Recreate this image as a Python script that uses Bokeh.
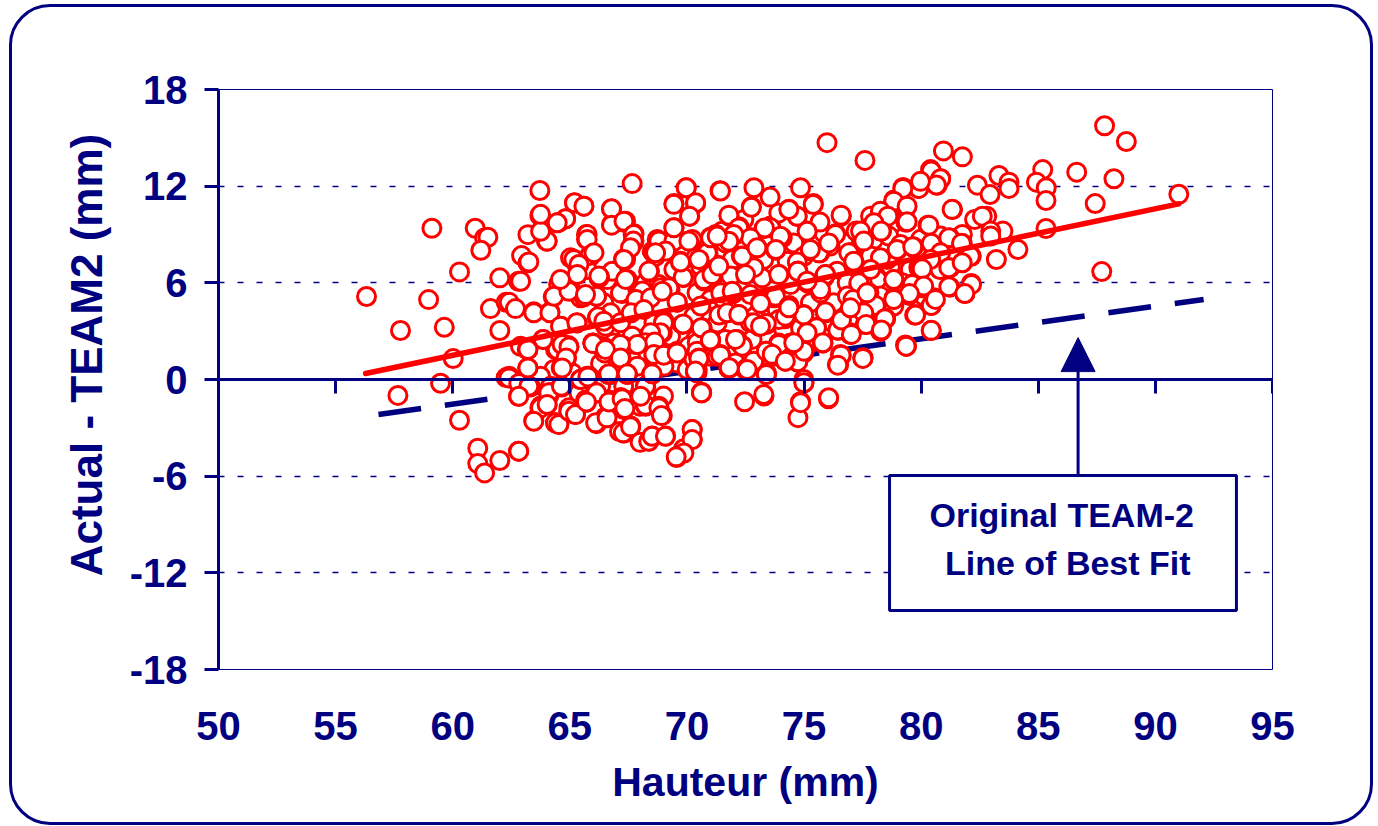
from bokeh.plotting import figure
from bokeh.models import Range1d, FixedTicker, LinearAxis, BoxAnnotation, Arrow, NormalHead, Label, InlineStyleSheet
from bokeh.embed import file_html
from bokeh.resources import INLINE

NAVY = "#000080"
RED = "#ff0000"
FONT = "Liberation Sans"

x_ticks = [50, 55, 60, 65, 70, 75, 80, 85, 90, 95]
y_ticks = [-18, -12, -6, 0, 6, 12, 18]
y_tick_labels = {-18: "-18", -12: "-12", -6: "-6", 0: "0", 6: "6", 12: "12", 18: "18"}
x_title = "Hauteur (mm)"
y_title = "Actual - TEAM2 (mm)"
note_lines = ["Original TEAM-2", "Line of Best Fit"]

fit_x = [56.28, 91.0]
fit_y = [0.37, 10.9]
orig_x = [56.83, 92.06]
orig_y = [-2.17, 4.97]

pts_hidden = [
(65.03,7.55),(65.39,6.72),(66.6,6.2),(67.73,5.79),(68.23,6.0),(68.8,5.9),(69.44,6.83),(70.15,6.93),(68.52,7.96),(65.46,5.07),(66.45,4.76),(67.45,5.38),(66.74,4.14),(67.88,3.52),(68.59,3.52),(69.3,2.69),(68.02,2.48),(67.45,2.69),(66.88,2.27),(66.31,2.07),(68.3,1.45),(67.59,1.45),(67.88,0.83),(66.95,0.83),(66.31,1.0),(69.58,1.03),(68.73,0.83),(70.01,0.62),(64.39,1.86),(64.32,0.62),(65.1,0.41),(63.75,0.2),(67.88,-0.62),(67.3,-0.42),(66.31,-0.42),(65.39,-0.83),(64.18,-0.42),(69.0,-1.03),
(71.5,9.2),(71.64,8.48),(72.43,9.93),(73.57,9.52),(73.92,10.34),(74.7,10.13),(75.84,9.1),(76.7,8.48),(74.56,8.48),(74.99,7.65),(74.28,7.34),(73.28,7.45),(71.93,7.45),(70.58,7.03),(71.64,6.2),(73.21,6.31),(74.42,5.89),(76.41,6.72),(76.27,5.79),(76.84,6.0),(70.43,5.38),(71.0,4.96),(71.57,4.96),(72.43,4.76),(73.85,4.34),(75.27,4.76),(76.27,4.76),(72.71,3.51),(71.29,3.51),(70.29,3.93),(74.13,3.1),(76.13,3.62),(77.12,3.51),(71.64,2.48),(72.78,2.48),(74.42,2.27),(75.27,2.27),(71.0,1.44),(73.28,1.24),(72.07,1.03),(73.85,1.44),
(77.84,10.14),(78.83,9.73),(77.98,8.7),(78.62,8.9),(79.97,8.7),(80.83,8.9),(79.4,7.66),(77.84,7.66),(78.69,7.04),(79.54,6.83),(80.68,7.04),(78.12,6.21),(77.48,6.0),(79.19,6.0),(78.26,5.18),(79.12,5.38),(80.11,5.18),(77.84,4.14),(78.83,4.56),
]
pts_left = [
(56.32,5.15),(57.66,-0.99),(57.77,3.04),(59.11,9.39),(58.97,4.96),(59.48,-0.23),(59.64,3.24),(60.02,1.30),(60.29,-2.53),(60.29,6.68),
(60.96,9.39),(61.36,8.79),(61.5,8.83),(61.2,8.02),(61.07,-4.27),(61.07,-5.22),(61.36,-5.8),(62.01,-5.03),(62.81,-4.45),
(62.01,6.31),(62.81,6.10),(61.61,4.40),(62.01,3.04),(62.28,4.79),(62.41,4.79),(62.68,4.40),(62.28,0.12),(62.41,0.2),(62.81,-0.21),(62.81,-1.04),(63.32,-0.46),
(62.94,7.69),(63.21,7.24),(63.21,8.99),(63.72,11.73),(63.72,10.18),(63.89,9.58),(64.0,8.6),(64.53,9.76),(64.82,9.97),(65.2,10.96),(65.6,10.76),(66.78,10.59),(66.78,9.62),(67.31,9.76),(67.66,12.16),(67.7,9.0),(67.7,8.48),
(65.71,9.0),(65.71,8.7),(65.85,7.69),(65.2,7.44),(65.31,7.13),(67.31,7.44),
(63.46,4.2),(64.15,4.2),(64.53,5.93),(64.29,5.13),(65.0,5.79),(65.6,5.13),(66.24,6.31),(66.14,5.17),(67.19,5.38),(67.45,6.14),(67.8,4.96),(66.81,6.72),
(65.31,3.51),(64.63,3.31),(66.52,3.31),(66.17,3.82),(65.98,2.27),(63.86,2.48),(62.89,2.06),(63.21,1.86),(63.21,0.72),(64.96,2.06),(64.46,1.86),(64.82,1.24),(64.63,0.72),(66.52,1.96),(67.19,2.13),(67.19,1.34),(67.8,2.17),(67.45,0.31),(66.64,0.31),(67.66,2.69),
(65.45,0.0),(65.74,0.2),(64.63,-0.42),(64.15,-0.83),(65.71,-1.41),(66.14,-0.83),(66.67,-1.41),(67.19,-1.14),(67.31,-1.87),(63.72,-1.76),(64.03,-1.56),(63.46,-2.55),(64.39,-2.69),(64.53,-2.76),(64.96,-1.97),(65.24,-2.18),(66.14,-2.74),(66.52,-2.32),(67.31,-3.32),(67.59,-2.9),(68.0,-3.9),(68.0,-1.66),
]
pts_mid = [
(69.97,11.9),(71.41,11.72),(72.86,11.9),(74.85,11.9),(79.24,11.9),(79.9,11.9),
(69.45,10.93),(70.37,10.93),(70.12,10.14),(73.55,11.32),(72.75,10.72),(75.4,10.93),(74.36,10.56),(74.71,10.14),(71.8,10.14),(76.59,10.14),(78.84,11.14),(78.55,10.14),(79.34,10.72),(79.34,9.77),(78.06,9.73),
(67.38,9.83),(67.74,9.05),(67.74,8.59),(68.76,8.59),(69.45,9.42),(69.45,8.59),(70.09,8.59),(69.16,8.07),(68.59,7.87),(67.38,7.45),
(71.04,8.8),(71.23,9.0),(71.8,8.59),(72.08,9.0),(72.22,9.48),(72.75,8.8),(73.29,9.36),(73.57,9.42),(74.07,8.8),(73.0,8.18),(75.14,9.21),(75.68,9.77),(76.35,9.05),(77.25,9.21),(77.49,8.59),(78.31,9.21),(76.11,8.28),(73.79,8.03),(72.32,7.66),(70.9,7.83),(70.59,7.45),(69.73,7.25),(75.28,7.97),(75.68,7.87),(76.99,7.87),(78.98,8.03),(79.66,8.24),(74.71,7.29),(77.13,7.29),(78.55,7.45),(79.9,6.94),
(68.38,6.67),(71.3,7.08),(69.85,6.32),(72.5,6.52),(73.93,6.52),(74.74,6.73),(75.92,6.52),(75.85,6.32),(70.73,6.11),(71.15,6.42),(71.87,6.42),(72.86,6.94),(78.84,6.17),(79.62,5.9),(77.34,5.9),(67.38,6.11),
(69.28,5.55),(68.88,5.69),(68.1,5.49),(67.24,5.34),(67.85,4.93),(69.59,4.8),(70.59,4.56),(71.44,5.38),(71.98,5.34),(73.15,4.76),(73.72,5.07),(74.36,4.6),(75.71,5.38),(75.14,6.0),(77.1,4.97),(77.77,5.38),(76.85,5.18),(78.03,4.6),(78.84,4.97),(79.48,5.22),
(72.22,4.0),(74.99,4.0),(75.92,4.18),(69.8,3.42),(70.63,3.21),(69.02,3.63),(73.4,3.46),(73.08,3.31),(74.17,3.77),(71.37,4.0),(75.52,3.25),(76.46,3.07),(76.56,3.73),(77.67,3.46),(78.48,3.77),(78.31,3.07),(76.99,2.9),(79.72,4.0),
(68.95,2.9),(68.19,2.28),(68.64,2.32),(67.31,2.07),(70.37,2.49),(71.01,2.45),(70.59,2.24),(69.59,1.7),(69.02,1.52),(68.59,1.45),(72.36,2.07),(72.15,2.38),(73.93,2.07),(73.4,1.76),(74.99,1.76),(75.78,2.28),(76.59,1.49),(77.52,1.35),(79.37,2.07),
(71.44,1.52),(70.51,1.29),(71.79,0.73),(72.86,1.14),(72.58,0.73),(74.21,1.14),(74.74,1.14),(76.42,0.94),(73.4,0.32),(70.37,0.52),(68.52,0.32),(67.45,0.32),(69.02,0.83),(67.17,1.35),
(68.24,-0.45),(70.63,-0.82),(75.0,-0.2),(73.29,-1.03),(72.46,-1.38),(74.85,-1.38),(76.04,-1.2),(74.74,-2.37),(68.24,-1.59),(68.76,-1.69),(68.95,-2.23),(67.31,-1.24),(67.31,-1.75),(67.6,-2.89),(68.52,-3.51),(69.09,-3.51),(68.38,-3.82),(70.23,-3.1),(70.23,-3.72),(69.86,-4.3),(69.56,-4.84),(67.12,-3.23),
]
pts_right = [
(87.83,15.75),(88.76,14.77),(80.95,14.19),(81.76,13.82),(80.4,13.03),(80.83,12.46),(80.69,12.06),(80.0,12.25),(79.88,11.86),(79.22,11.9),(85.19,13.03),(84.92,12.25),(85.34,11.9),(85.33,11.11),(86.64,12.87),(88.23,12.46),(87.43,10.92),(91.0,11.5),(83.32,12.66),(82.4,12.06),(83.75,12.25),(83.75,11.86),(82.94,11.48),(81.34,10.55),(78.84,11.07),(79.38,10.72),
(78.55,10.14),(79.38,9.79),(80.29,9.58),(82.28,9.93),(82.8,10.14),(82.61,10.14),(85.33,9.37),(83.49,9.21),(82.97,9.21),(82.97,8.9),(81.76,9.0),(81.76,8.44),(81.23,8.79),(80.43,8.42),(79.65,8.21),(78.98,8.07),(78.27,9.21),
(84.13,8.07),(82.14,7.65),(83.21,7.45),(81.76,7.24),(81.23,6.93),(80.43,7.45),(79.98,6.93),(80.8,6.83),(78.84,6.21),(79.65,5.94),(80.05,5.69),(79.51,5.32),(78.84,5.07),(81.23,5.73),(82.14,5.96),(81.87,5.34),(80.43,4.59),(80.55,5.07),(79.76,4.03),(78.41,3.83),(78.27,3.0),(80.43,3.04),(79.37,2.07),(87.71,6.7),
(75.98,14.7),(77.6,13.6),
]
pts_left_detail = [
(64.03,8.59),(63.25,7.30),(62.9,6.1),(63.46,4.14),(64.15,4.14),(64.53,5.90),(64.32,5.17),(64.96,5.48),(65.24,7.34),(65.88,7.65),(65.74,6.83),(66.27,6.35),(67.45,6.21),(67.3,7.49),(68.4,6.72),(66.14,5.17),(67.16,5.38),(65.67,5.27),(67.83,4.96),(68.45,5.07),(69.23,5.69),(69.84,6.35),(69.58,4.8),(68.94,5.48),(69.73,7.34),(68.66,7.65),(69.08,8.07),(69.44,8.65),(68.73,8.69),(70.37,7.55),
(64.6,3.31),(65.3,3.52),(63.86,2.48),(66.2,3.89),(66.45,3.62),(67.16,3.52),(67.62,4.14),(68.16,4.34),(69.0,3.52),(69.84,3.45),(68.87,2.9),(68.45,2.9),(68.23,2.28),(68.62,2.32),(67.88,2.17),(67.16,2.17),(65.99,2.27),(64.93,2.11),(64.67,2.17),(63.18,1.86),(64.86,1.34),(64.67,0.83),(63.21,0.72),(67.16,1.3),(66.48,1.65),(69.08,1.55),(69.58,1.76),(68.59,1.55),(70.08,2.07),(70.44,2.28),(70.3,1.24),(70.44,0.62),
(68.49,0.35),(67.45,0.35),(66.66,0.31),(65.46,0.0),(65.81,0.2),(64.67,-0.46),(68.23,-0.42),(64.1,-1.0),(63.75,-1.65),(63.25,-0.4),(65.67,-1.28),(66.1,-0.83),(66.66,-1.28),(67.16,-1.14),(68.23,-1.66),(68.8,-1.66),(64.96,-1.76),
]
pts_mid_detail = [
(71.79,10.2),(72.75,10.69),(74.35,10.55),(75.39,10.86),(76.58,10.2),(77.22,9.2),(75.13,9.2),(76.34,9.0),(73.99,8.89),(73.31,9.41),(72.21,9.41),(72.71,8.79),(72.0,9.0),(71.79,8.58),(71.0,8.83),(70.22,8.69),(70.86,7.86),(72.36,7.65),(73.8,8.07),(75.63,7.86),(76.91,7.86),(77.12,7.34),(76.06,8.48),(75.27,8.07),(72.99,8.17),
(71.32,7.09),(72.5,6.51),(73.92,6.51),(74.73,6.72),(75.91,6.51),(75.7,5.58),(75.13,6.1),(77.34,6.0),(77.69,5.38),(77.09,4.96),(70.72,6.2),(71.07,6.51),(71.93,5.48),(72.71,5.27),(73.78,5.17),(73.14,4.76),(74.35,4.55),(72.21,4.03),(71.72,4.14),(74.99,4.03),(75.91,4.14),(76.55,3.62),(77.62,3.41),(76.98,2.79),(70.65,3.2),(71.0,2.48),(75.53,3.2),(76.44,3.06),(73.39,3.41),(73.07,3.31),(73.92,3.72),(74.28,4.03),(74.85,3.2),(72.36,2.11),(72.14,2.48),(73.92,2.27),(73.42,1.69),(71.43,1.55),(70.43,1.76),(75.81,2.27),(76.55,1.55),(76.48,0.93),(77.51,1.34),(72.85,1.09),(74.7,1.09),(74.99,1.65),(71.79,0.68),(72.5,0.62),(73.39,0.41),(74.99,0.0),(70.43,0.41),
]
pts_right_detail = [
(80.43,12.94),(80.83,12.46),(80.65,12.07),(79.9,11.86),(79.22,11.86),(79.97,12.3),(78.83,11.07),(79.4,10.76),(81.32,10.56),(78.26,10.45),(78.58,10.14),(77.98,9.73),(79.4,9.79),(78.29,9.21),(80.33,9.58),(77.41,9.21),(77.55,8.59),(79.12,8.38),(78.97,8.07),(79.64,8.24),(80.43,8.45),(81.18,8.8),(81.72,8.45),(82.1,7.66),(80.83,7.87),(80.4,7.45),(80.04,6.87),(81.18,6.94),(81.75,7.25),(78.26,7.56),(77.84,6.83),(78.83,6.21),(79.62,5.9),(80.11,5.8),(79.5,5.34),(78.83,4.97),(81.18,5.76),(82.15,5.9),(81.86,5.34),(80.43,4.6),(80.61,4.97),(79.76,4.0),(78.05,4.6),(77.69,5.38),(78.48,3.79),(77.62,3.42),(78.26,3.0),(80.43,3.05),(79.33,2.14),(77.55,4.14),
]
pts_top = [
(65.2,10.97),(65.6,10.76),(66.78,10.6),(66.78,9.58),(67.31,9.83),(67.73,9.0),(67.71,8.59),(67.59,8.18),(67.31,7.45),(65.74,9.0),(65.74,8.69),(65.86,7.7),(65.17,7.45),(65.39,7.14),(66.03,7.87),(64.82,9.98),(64.46,9.73),(64.03,8.59),(63.75,9.2),(63.75,10.25),(68.8,8.59),(69.44,8.59),(69.44,9.42),(69.44,10.87),(69.97,11.9),(70.37,10.97),(70.11,10.14),(70.08,8.59),(69.09,7.97),(68.66,7.87),(69.73,7.29),(68.37,6.73),(70.87,7.87),(71.01,8.8),(71.29,8.9),(71.36,7.04),(70.51,7.45),(71.43,11.7),(66.24,6.42),(65.32,6.52),(64.6,6.21),(67.38,6.21),
(63.21,1.86),(63.21,0.72),(62.4,0.1),(62.82,-0.25),(63.25,-0.42),(62.82,-1.04),(64.1,-0.83),(63.75,-1.76),(64.03,-1.55),(63.46,-2.59),(64.39,-2.69),(64.53,-2.8),(64.96,-1.97),(65.24,-2.18),(64.64,-0.42),(65.46,0.0),(65.77,0.16),(64.96,2.02),(64.84,1.34),(64.67,0.72),(65.99,2.23),(66.52,1.86),(67.16,1.34),(66.66,0.35),(67.45,0.35),(66.14,-0.83),(65.71,-1.39),(66.1,-2.69),(66.59,-2.38),(66.67,-1.39),(67.23,-1.2),(67.35,-1.8),(67.28,-3.31),(67.59,-2.94),(68.23,-1.6),(68.8,-1.76),(68.91,-2.24),(68.23,-0.42),(68.02,-1.04),(68.51,0.35),(69.01,1.51),(68.37,-3.83),(68.51,-3.52),(69.08,-3.52),(70.22,-3.11),(70.22,-3.73),(69.87,-4.56),(69.54,-4.8),(70.62,-0.79),(70.36,0.47),(70.51,1.34),(62.82,-4.45),(69.58,1.65),(71.0,2.38),(71.29,1.45),
(73.14,4.72),(72.21,4.04),(73.39,3.48),(70.61,3.21),(71.0,2.45),(74.99,4.0),(75.91,4.2),(75.53,3.21),(76.44,3.07),(76.6,3.69),(77.65,3.42),(78.45,3.77),(78.3,3.07),(77.02,2.8),(79.36,2.07),(77.51,1.31),(75.8,2.28),(76.58,1.51),(76.44,0.89),(74.99,-0.2),(73.39,0.31),(72.85,1.14),(72.57,0.62),(74.73,1.1),(74.99,1.76),(73.92,2.18),(73.39,1.76),(73.64,1.56),(72.36,2.07),(72.07,2.49),(71.43,1.51),(71.81,0.73),(70.51,1.31),(70.36,0.52),(70.62,-0.82),(73.28,-0.93),(74.85,-1.44),(76.05,-1.13),(74.2,3.93),(74.35,4.45),(72.85,3.52),(73.14,3.31),(75.13,2.9),(74.56,2.28),(76.98,4.45),(74.2,1.14),
]
points = pts_hidden + pts_left + pts_mid + pts_right + pts_left_detail + pts_mid_detail + pts_right_detail + pts_top
hauteur = [q[0] for q in points]
residual = [q[1] for q in points]

p = figure(width=1378, height=826, output_backend="svg", toolbar_location=None,
           x_range=Range1d(50, 95), y_range=Range1d(-18, 18),
           min_border_left=218, min_border_right=106, min_border_top=89, min_border_bottom=157,
           background_fill_color="white", border_fill_color="white",
           outline_line_color=NAVY, outline_line_width=1)

# rounded page frame
p.stylesheets = [InlineStyleSheet(css=""":host::after { content: ""; position: absolute; box-sizing: border-box;
    left: 8.5px; top: 4px; width: 1364px; height: 820.5px; border: 3px solid #000080; border-radius: 41px;
    pointer-events: none; }""")]

p.xgrid.visible = False
p.ygrid.ticker = FixedTicker(ticks=y_ticks)
p.ygrid.grid_line_color = NAVY
p.ygrid.grid_line_width = 1.6
p.ygrid.grid_line_dash = "6 13"

xa = p.xaxis[0]
xa.ticker = FixedTicker(ticks=x_ticks)
xa.axis_line_color = None
xa.major_tick_line_color = None
xa.minor_tick_line_color = None
xa.major_label_standoff = 36
xa.major_label_text_font = FONT
xa.major_label_text_font_style = "bold"
xa.major_label_text_font_size = "40px"
xa.major_label_text_color = NAVY
xa.axis_label = x_title
xa.axis_label_standoff = 16
xa.axis_label_text_font = FONT
xa.axis_label_text_font_style = "bold"
xa.axis_label_text_font_size = "41px"
xa.axis_label_text_color = NAVY

ya = p.yaxis[0]
ya.ticker = FixedTicker(ticks=y_ticks)
ya.major_label_overrides = y_tick_labels
ya.axis_line_color = NAVY
ya.axis_line_width = 3
ya.major_tick_line_color = NAVY
ya.major_tick_line_width = 3
ya.major_tick_in = 0
ya.major_tick_out = 14
ya.minor_tick_line_color = None
ya.major_label_standoff = 17
ya.major_label_text_font = FONT
ya.major_label_text_font_style = "bold"
ya.major_label_text_font_size = "40px"
ya.major_label_text_color = NAVY
ya.axis_label = "\u00a0\u00a0\u00a0\u00a0" + y_title
ya.axis_label_standoff = 16
ya.axis_label_text_font = FONT
ya.axis_label_text_font_style = "bold"
ya.axis_label_text_font_size = "44px"
ya.axis_label_text_color = NAVY

zero = LinearAxis(fixed_location=0, ticker=FixedTicker(ticks=x_ticks),
                  axis_line_color=NAVY, axis_line_width=3,
                  major_tick_line_color=NAVY, major_tick_line_width=3,
                  major_tick_in=0, major_tick_out=14, minor_tick_line_color=None,
                  major_label_text_font_size="0px", major_label_text_color=None)
p.add_layout(zero, "below")

p.line(orig_x, orig_y, line_color=NAVY, line_width=5.5, line_dash="43 24")
p.scatter(hauteur, residual, marker="circle", size=18, fill_color="white", line_color=RED, line_width=3)
p.line(fit_x, fit_y, line_color=RED, line_width=5.5, line_cap="round")

box = BoxAnnotation(left=78.65, right=93.46, top=-5.96, bottom=-14.34,
                    fill_color="white", fill_alpha=1, line_color=NAVY, line_alpha=1, line_width=3, level="overlay")
p.add_layout(box)
p.add_layout(Arrow(x_start=86.7, y_start=-5.96, x_end=86.7, y_end=2.6, line_color=NAVY, line_width=3,
                   end=NormalHead(size=34, fill_color=NAVY, line_color=NAVY), level="overlay"))
for txt, cx, cy in zip(note_lines, [86.0, 86.26], [-8.38, -11.36]):
    p.add_layout(Label(x=cx, y=cy, text=txt, text_align="center", text_baseline="middle",
                       text_font=FONT, text_font_style="bold", text_font_size="34px",
                       text_color=NAVY, level="overlay"))

open("out.html", "w").write(file_html(p, INLINE))
